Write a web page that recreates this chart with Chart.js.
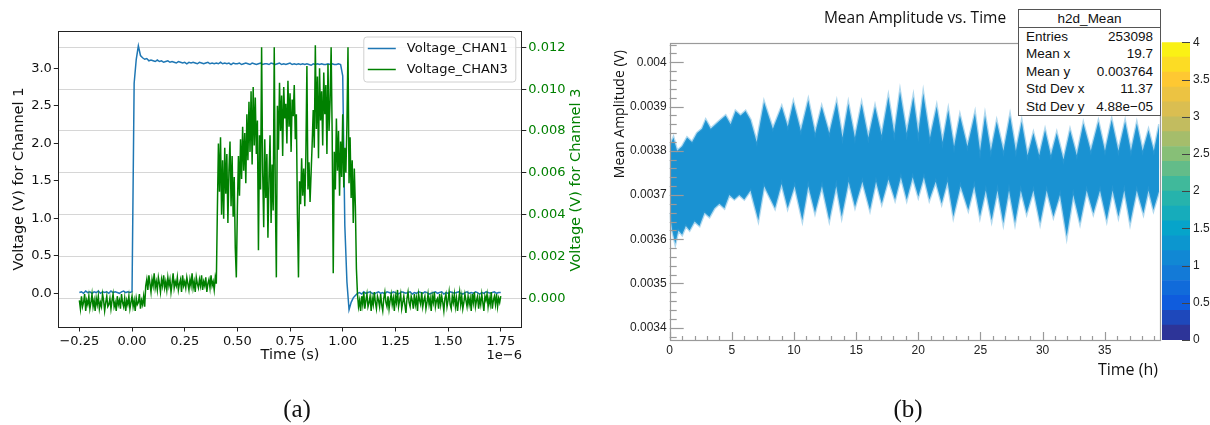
<!DOCTYPE html>
<html>
<head>
<meta charset="utf-8">
<script src="https://cdn.jsdelivr.net/npm/chart.js@4.4.1/dist/chart.umd.min.js"></script>
<style>
  html, body { margin:0; padding:0; background:#fff; }
  #page { position:relative; width:1210px; height:425px; overflow:hidden; }
  canvas { position:absolute; top:0; }
  .lbl { position:absolute; white-space:nowrap; line-height:1; color:#111; }
  .rot { transform:translate(-50%,-50%) rotate(-90deg); }
  .cap { position:absolute; top:408px; transform:translate(-50%,-50%); font:25px 'Liberation Serif', serif; color:#111; line-height:1; }
  #stats { position:absolute; left:1018px; top:9px; width:143px; height:107px; box-sizing:border-box;
           border:1px solid #555; background:#fff; font:13.5px 'Liberation Sans', Arial, sans-serif; color:#111; }
  #stats .hd { height:17px; line-height:17px; text-align:center; border-bottom:1px solid #555; }
  #stats .row { display:flex; justify-content:space-between; height:17.4px; line-height:17.4px; padding:0 7px 0 7px; }
</style>
</head>
<body>
<div id="page">
  <canvas id="scope" width="600" height="425" style="left:0"></canvas>
  <canvas id="amp" width="610" height="425" style="left:600px"></canvas>
  <canvas id="zbar" width="50" height="425" style="left:1160px"></canvas>

  <!-- panel (a) extras -->
  <div class="lbl rot" style="left:575px; top:180px; font:14.5px 'DejaVu Sans', sans-serif; color:#008000;">Voltage (V) for Channel 3</div>
  <div class="lbl" style="right:688px; top:346.5px; font:13px 'DejaVu Sans', sans-serif;">1e−6</div>

  <!-- panel (b) titles, ROOT style -->
  <div class="lbl" style="left:915px; top:6px; transform:translateX(-50%); font:15.5px 'Open Sans', sans-serif;">Mean Amplitude vs. Time</div>
  <div class="lbl" style="left:618px; top:50px; transform-origin:0 0; transform:rotate(-90deg) translate(-100%,-50%); font:14px 'Open Sans', sans-serif;">Mean Amplitude (V)</div>
  <div class="lbl" style="right:52px; top:358px; font:16px 'Open Sans', sans-serif;">Time (h)</div>

  <div id="stats">
    <div class="hd">h2d_Mean</div>
    <div class="row"><span>Entries</span><span>253098</span></div>
    <div class="row"><span>Mean x</span><span>19.7</span></div>
    <div class="row"><span>Mean y</span><span>0.003764</span></div>
    <div class="row"><span>Std Dev x</span><span>11.37</span></div>
    <div class="row"><span>Std Dev y</span><span>4.88e−05</span></div>
  </div>

  <div class="cap" style="left:297px">(a)</div>
  <div class="cap" style="left:908px">(b)</div>
</div>

<script>
// ---------- (a) scope traces ----------
// both channels start at -0.25 (x1e-6 s); CHAN1 sampled every 0.01, CHAN3 every 0.005
const T0 = -0.25;
const DT1 = 0.01;
const DT3 = 0.005;

// CHAN1, volts
const chan1 = [
  0.01,0.02,0.00,0.03,0.01,0.02,0.00,0.02,0.01,0.03,0.00,0.02,0.01,0.02,0.00,0.03,0.01,0.02,0.01,0.00,0.02,0.03,0.01,0.02,0.01,
  0.02,
  2.80,3.12,3.30,3.17,3.14,3.12,3.13,3.10,3.11,
  3.10,3.09,3.11,3.09,3.10,3.08,3.09,3.10,3.08,3.09,
  3.08,3.07,3.09,3.08,3.07,3.08,3.06,3.08,3.07,3.08,
  3.07,3.06,3.08,3.07,3.06,3.07,3.08,3.06,3.07,3.06,
  3.07,3.06,3.08,3.06,3.07,3.06,3.07,3.05,3.07,3.06,
  3.06,3.07,3.05,3.06,3.07,3.06,3.05,3.07,3.06,3.05,
  3.06,3.07,3.05,3.06,3.06,3.05,3.07,3.06,3.05,3.06,
  3.07,3.05,3.06,3.05,3.06,3.07,3.05,3.06,3.05,3.06,
  3.05,3.06,3.05,3.06,3.05,3.04,3.06,3.05,3.06,3.05,
  3.06,3.05,3.05,3.06,3.05,3.06,3.05,3.05,3.06,3.05,
  2.90,0.90,0.15,-0.22,-0.12,-0.06,-0.03,
  0.00,0.01,-0.01,0.02,0.00,0.01,0.02,0.00,-0.01,0.01,
  0.02,0.00,0.01,-0.01,0.02,0.01,0.00,0.02,0.01,-0.01,
  0.00,0.02,0.01,0.00,0.01,0.02,-0.01,0.01,0.00,0.02,
  0.01,0.00,0.02,0.01,-0.01,0.00,0.01,0.02,0.00,0.01,
  0.02,-0.01,0.01,0.00,0.02,0.01,0.00,0.01,0.02,0.00,
  -0.01,0.01,0.02,0.00,0.01,0.00,0.02,0.01,-0.01,0.01,
  0.00,0.02,0.01,0.00,0.01,0.02,0.00,0.01,0.01
];

// CHAN3, millivolts (axis shows volts)
const chan3 = [
  // baseline before the trigger
  -0.1,-0.5,0.1,-0.4,-0.2,0.2,-0.6,-0.1,-0.3,0.1,
  -0.5,-0.2,0.2,-0.4,-0.1,-0.6,0.0,-0.3,0.1,-0.5,
  -0.2,-0.4,0.2,-0.1,-0.6,-0.2,0.1,-0.4,-0.3,0.0,
  -0.5,-0.1,0.2,-0.4,-0.2,-0.6,0.1,-0.3,-0.1,-0.5,
  0.2,-0.2,-0.4,0.0,-0.6,-0.1,-0.3,0.1,-0.5,-0.2,
  0.1,-0.4,-0.1,-0.6,0.0,-0.3,-0.2,0.2,-0.5,-0.1,
  -0.3,0.1,-0.4,
  // small step after 0.06
  0.6,0.9,0.4,1.1,0.7,0.3,0.9,0.6,1.2,0.5,
  0.8,0.4,1.0,0.7,0.3,0.9,0.6,1.1,0.5,0.8,
  0.4,1.0,0.6,0.9,0.3,0.7,1.2,0.5,0.8,0.6,
  1.0,0.4,0.7,0.9,0.3,1.1,0.6,0.8,0.5,1.0,
  0.7,0.4,0.9,0.6,1.2,0.5,0.8,0.3,1.0,0.7,
  0.5,0.9,0.6,1.1,0.4,0.8,0.6,1.0,0.3,0.7,
  0.9,0.5,1.1,0.6,0.8,0.4,1.0,0.7,
  // burst 0.40 .. 1.06
  4.2,7.4,5.1,7.7,4.0,6.6,3.8,7.2,5.0,6.9,3.6,6.1,7.5,4.4,6.8,3.9,5.8,
  2.4,1.0,4.3,
  6.8,4.9,7.6,5.7,8.2,6.1,7.9,5.5,8.8,6.6,9.4,7.0,9.9,6.4,10.1,7.3,9.6,6.9,
  8.5,2.3,7.8,5.2,
  12.0,
  6.1,3.4,7.6,4.8,6.9,2.9,5.7,7.8,3.6,6.4,4.2,12.0,
  5.0,1.0,
  9.2,7.1,10.3,8.0,9.7,6.8,10.1,8.6,9.3,7.4,10.4,8.2,9.8,7.0,9.5,8.7,10.2,7.6,
  8.8,4.0,1.0,
  5.6,4.5,6.7,4.9,6.2,4.4,6.8,11.1,5.2,6.5,4.6,6.0,7.4,
  9.0,7.2,12.1,8.1,10.6,6.7,11.0,8.5,9.9,7.3,10.8,8.8,10.2,6.9,11.2,8.0,9.4,12.0,7.8,
  1.2,
  7.0,5.2,8.6,6.1,8.0,4.9,7.5,5.8,8.8,5.3,7.2,6.0,8.3,12.0,5.5,7.7,4.8,6.6,3.6,6.2,4.4,
  1.4,
  // baseline after the pulse
  0.2,-0.4,-0.1,-0.6,0.1,-0.3,0.3,-0.5,-0.1,0.2,
  -0.4,-0.2,0.1,-0.6,0.0,-0.3,0.3,-0.2,-0.5,0.1,
  -0.1,-0.4,0.2,-0.3,-0.6,0.0,0.3,-0.2,-0.4,0.1,
  -0.5,-0.1,0.2,-0.3,0.0,-0.6,0.1,-0.2,0.4,-0.4,
  -0.1,0.2,-0.5,-0.2,0.1,-0.3,-0.7,0.0,0.3,-0.2,
  -0.4,0.1,-0.1,-0.5,0.2,-0.3,0.0,-0.6,0.2,-0.1,
  -0.3,0.3,-0.4,-0.1,0.1,-0.5,-0.2,0.2,-0.3,0.0,
  -0.6,0.1,-0.2,0.3,-0.4,-0.1,0.0,-0.5,0.2,-0.3,
  0.1,-0.2,-0.6,0.0,0.2,-0.4,-0.1,0.3,-0.3,-0.5,
  0.1,-0.2,0.2,-0.4,0.0,-0.6,-0.1,0.3,-0.3,0.1,
  -0.5,-0.2,0.2,-0.1,-0.4,0.1,-0.3,0.0,-0.6,0.2,
  -0.2,0.3,-0.4,-0.1,0.1,-0.5,0.0,-0.3,0.2,-0.2,
  -0.6,0.1,-0.1,0.2,-0.4,0.0,-0.3,0.3,-0.5,-0.1,
  0.1,-0.3,0.2,-0.4,0.0,-0.2,0.1
];

// ---------- (b) mean amplitude band ----------
// upper edge of the point cloud (hours, volts)
const upperT = [0.0,0.3,0.6,1.0,1.4,1.8,2.2,2.6,2.9,3.3,3.7,4.1,4.5,4.9,5.3,5.7,6.1,6.5,7.0,7.59,8.3,9.01,9.5,9.95,10.55,11.15,11.7,12.23,12.84,13.43,
  13.9,14.37,14.9,15.44,15.98,16.52,17.05,17.59,18.06,18.53,19.07,19.6,20.0,20.4,20.94,21.48,21.95,22.41,22.88,23.35,23.95,24.56,24.97,25.37,25.84,26.31,26.85,27.38,27.85,28.32,
  28.79,29.26,29.73,30.2,30.67,31.14,31.68,32.21,32.75,33.28,33.88,34.49,35.02,35.56,36.1,36.64,37.11,37.58,38.05,38.52,38.95,39.39];
const upperV = [0.00381,0.00383,0.00380,0.00381,0.00383,0.00382,0.00384,0.00385,0.00387,0.00385,0.00386,0.00387,0.00388,0.00386,0.00389,0.00388,0.00389,0.00387,0.00382,0.00391,0.00385,0.00390,0.003855,0.00391,0.003845,0.003915,0.00384,0.00390,0.00384,0.00391,
  0.00383,0.003907,0.00383,0.003907,0.00383,0.00390,0.003835,0.003922,0.00384,0.003934,0.00384,0.003922,0.00384,0.00393,0.00383,0.00390,0.00382,0.003892,0.00381,0.00388,0.00381,0.003885,0.00380,0.00388,0.00380,0.003866,0.00380,0.00388,0.00380,0.003866,
  0.00379,0.00384,0.00379,0.003847,0.00379,0.00384,0.00378,0.003847,0.00379,0.003862,0.00380,0.003866,0.00380,0.00387,0.00380,0.003866,0.00380,0.003862,0.00380,0.003847,0.00380,0.00386];

// lower edge of the point cloud (hours, volts)
const lowerT = [0.0,0.2,0.45,0.7,1.0,1.3,1.6,2.0,2.4,2.8,3.2,3.6,4.0,4.4,4.8,5.2,5.6,6.0,6.5,7.13,7.6,8.47,9.0,9.49,10.05,10.67,11.15,11.69,12.25,12.84,
  13.4,13.84,14.4,14.91,15.5,16.11,16.6,17.06,17.6,18.13,18.6,19.07,19.55,20.0,20.45,20.89,21.4,21.88,22.35,22.82,23.4,24.02,24.5,24.96,25.43,25.9,26.37,26.84,27.3,27.78,
  28.25,28.72,29.26,29.8,30.33,30.87,31.4,31.94,32.47,33.01,33.55,34.08,34.62,35.16,35.63,36.1,36.57,37.04,37.58,38.11,38.52,38.92,39.39];
const lowerV = [0.00366,0.00362,0.00359,0.00362,0.00361,0.00363,0.00362,0.00364,0.00363,0.00366,0.00365,0.00367,0.00368,0.00367,0.00370,0.00369,0.00370,0.00369,0.00371,0.003643,0.00372,0.00367,0.003725,0.00367,0.00372,0.003643,0.00372,0.00366,0.00372,0.003643,
  0.00372,0.003651,0.00373,0.003673,0.00373,0.003666,0.00373,0.003681,0.003735,0.003689,0.00374,0.003689,0.00374,0.003696,0.00374,0.003689,0.00373,0.003681,0.00373,0.003651,0.00372,0.003666,0.00372,0.003651,0.00371,0.003643,0.00371,0.003636,0.00371,0.003636,
  0.00371,0.003658,0.00371,0.003636,0.00371,0.003651,0.00370,0.003606,0.00370,0.003636,0.00371,0.003658,0.00371,0.003643,0.00371,0.003651,0.00371,0.003636,0.00371,0.003658,0.00371,0.003666,0.00371];

// colour scale: level edges and the palette band between each pair
const zEdges = [0,0.2,0.4,0.6,0.8,1.0,1.2,1.4,1.6,1.8,2.0,2.2,2.4,2.6,2.8,3.0,3.2,3.4,3.6,3.8,4.0];
const zColors = ['#2d3498','#1e48bb','#0f5cdd','#116bda','#137ad7','#1188d4','#0c96cf','#06a4ca','#16acbb','#26b3ac',
                 '#40b99b','#63bc89','#87bf77','#a5bd6b','#c2bc5f','#dabe51','#ecc342','#fec832','#fcdc24','#faf115'];

Chart.defaults.font.family = "'DejaVu Sans', sans-serif";
Chart.defaults.color = '#111';

const fmtX = v => (Math.abs(v) < 1e-9 ? 0 : v).toFixed(2).replace('-', '\u2212');

// axes box + legend inside the upper right corner
const scopeFrame = {
  id: 'scopeFrame',
  afterDraw(chart) {
    const { ctx, chartArea: a } = chart;
    ctx.save();
    ctx.strokeStyle = '#222';
    ctx.lineWidth = 1;
    ctx.strokeRect(Math.round(a.left) + 0.5, Math.round(a.top) + 0.5, Math.round(a.right - a.left), Math.round(a.bottom - a.top));

    const bw = 152, bh = 45, bx = a.right - 6 - bw, by = a.top + 6;
    ctx.beginPath();
    if (ctx.roundRect) ctx.roundRect(bx, by, bw, bh, 3); else ctx.rect(bx, by, bw, bh);
    ctx.fillStyle = 'rgba(255,255,255,0.85)';
    ctx.fill();
    ctx.strokeStyle = '#d0d0d0';
    ctx.stroke();

    ctx.font = "13px 'DejaVu Sans', sans-serif";
    ctx.textBaseline = 'middle';
    chart.data.datasets.forEach((ds, i) => {
      const ly = by + 11.5 + i * 21;
      ctx.strokeStyle = ds.borderColor;
      ctx.lineWidth = 1.5;
      ctx.beginPath(); ctx.moveTo(bx + 4, ly); ctx.lineTo(bx + 32, ly); ctx.stroke();
      ctx.fillStyle = '#111';
      ctx.fillText(ds.label, bx + 43, ly);
    });
    ctx.restore();
  }
};

new Chart(document.getElementById('scope'), {
  type: 'line',
  data: {
    datasets: [
      { label: 'Voltage_CHAN1', data: chan1.map((v, i) => ({ x: T0 + i * DT1, y: v })), yAxisID: 'y',
        borderColor: '#1f77b4', borderWidth: 1.5, pointRadius: 0, order: 1 },
      { label: 'Voltage_CHAN3', data: chan3.map((v, i) => ({ x: T0 + i * DT3, y: v })), yAxisID: 'y3',
        borderColor: '#008000', borderWidth: 1.5, pointRadius: 0, order: 0 }
    ]
  },
  options: {
    responsive: false, animation: false,
    layout: { padding: { left: 0, top: 31, right: 8.2, bottom: 58 } },
    plugins: { legend: { display: false }, tooltip: { enabled: false } },
    scales: {
      x: {
        type: 'linear', min: -0.35, max: 1.85,
        afterFit: s => { s.height = 40; },
        grid: { drawOnChartArea: false, tickLength: 4.5, tickColor: '#222' },
        border: { display: false },
        ticks: { stepSize: 0.25, includeBounds: false, autoSkip: false, maxRotation: 0, padding: 2, font: { size: 13 }, callback: fmtX },
        title: { display: true, text: 'Time (s)', font: { size: 14.5 }, padding: { top: 0, bottom: 3.3 } }
      },
      y: {
        position: 'left', min: -0.449, max: 3.497,
        afterFit: s => { s.width = 58.3; },
        grid: { drawOnChartArea: false, tickLength: 4.5, tickColor: '#222' },
        border: { display: false },
        ticks: { stepSize: 0.5, includeBounds: false, padding: 2, font: { size: 13 }, callback: v => v.toFixed(1) },
        title: { display: true, text: 'Voltage (V) for Channel 1', font: { size: 14.5 }, padding: { top: 10.3, bottom: 0 } }
      },
      y3: {
        position: 'right', min: -1.372, max: 12.779,
        afterFit: s => { s.width = 70; },
        grid: { color: '#d6d6d6', lineWidth: 1, tickLength: 4.5, tickColor: '#222' },
        border: { display: false },
        ticks: { stepSize: 2, includeBounds: false, padding: 2, color: '#008000', font: { size: 13 }, callback: v => (v / 1000).toFixed(3) }
      }
    }
  },
  plugins: [scopeFrame]
});

// ROOT-like frame with inward tick marks
const rootFrame = {
  id: 'rootFrame',
  afterDatasetsDraw(chart) {
    const { ctx, chartArea: a, scales: { x, y } } = chart;
    ctx.save();
    ctx.strokeStyle = '#9a9a9a';
    ctx.lineWidth = 1.2;
    ctx.strokeRect(Math.round(a.left) + 0.5, Math.round(a.top) + 0.5, Math.round(a.right - a.left), Math.round(a.bottom - a.top));
    // y: major every 1e-4 V, four minors between
    for (let k = Math.ceil(y.min / 2e-5); k * 2e-5 <= y.max; k++) {
      const py = Math.round(y.getPixelForValue(k * 2e-5)) + 0.5;
      const len = k % 5 === 0 ? 14 : 7;
      ctx.beginPath(); ctx.moveTo(a.left, py); ctx.lineTo(a.left + len, py); ctx.stroke();
    }
    // x: minor every hour, major every 5 h
    for (let h = 0; h <= x.max; h++) {
      const px = Math.round(x.getPixelForValue(h)) + 0.5;
      const len = h % 5 === 0 ? 8 : 4;
      ctx.beginPath(); ctx.moveTo(px, a.bottom); ctx.lineTo(px, a.bottom - len); ctx.stroke();
    }
    ctx.restore();
  }
};

const cloud = '#1a92d2';
const cloudEdge = 'rgba(60,160,216,0.4)';

new Chart(document.getElementById('amp'), {
  type: 'line',
  data: {
    datasets: [
      { data: upperT.map((t, i) => ({ x: t, y: upperV[i] })), borderColor: cloudEdge, borderWidth: 2.5,
        backgroundColor: cloud, fill: { value: 0.00376 }, pointRadius: 0 },
      { data: lowerT.map((t, i) => ({ x: t, y: lowerV[i] })), borderColor: cloudEdge, borderWidth: 2.5,
        backgroundColor: cloud, fill: { value: 0.00378 }, pointRadius: 0 }
    ]
  },
  options: {
    responsive: false, animation: false,
    layout: { padding: { left: 0, top: 42.7, right: 50.7, bottom: 55 } },
    plugins: { legend: { display: false }, tooltip: { enabled: false } },
    scales: {
      x: {
        type: 'linear', min: 0, max: 39.39,
        afterFit: s => { s.height = 30; },
        grid: { display: false, drawTicks: false },
        border: { display: false },
        ticks: { stepSize: 5, includeBounds: false, maxRotation: 0, padding: 3, color: '#222',
                 font: { family: "'Liberation Sans', Arial, sans-serif", size: 12 } }
      },
      y: {
        min: 0.0033722, max: 0.0040443,
        afterFit: s => { s.width = 69.7; },
        grid: { display: false, drawTicks: false },
        border: { display: false },
        ticks: { stepSize: 0.0001, includeBounds: false, padding: 3, color: '#222',
                 font: { family: "'Liberation Sans', Arial, sans-serif", size: 12 },
                 callback: v => String(+v.toFixed(4)) }
      }
    }
  },
  plugins: [rootFrame]
});

// colour bar ticks point inward from the right edge
const zTicks = {
  id: 'zTicks',
  afterDraw(chart) {
    const { ctx, chartArea: a, scales: { y } } = chart;
    ctx.save();
    ctx.strokeStyle = '#444';
    ctx.lineWidth = 1;
    y.ticks.forEach(t => {
      const py = Math.round(y.getPixelForValue(t.value)) + 0.5;
      ctx.beginPath(); ctx.moveTo(a.right - 8, py); ctx.lineTo(a.right, py); ctx.stroke();
    });
    ctx.restore();
  }
};

new Chart(document.getElementById('zbar'), {
  type: 'bar',
  data: {
    labels: [''],
    datasets: zColors.map((c, k) => ({
      data: [[zEdges[k], zEdges[k + 1]]], backgroundColor: c, borderWidth: 0,
      barPercentage: 1, categoryPercentage: 1, grouped: false
    }))
  },
  options: {
    responsive: false, animation: false,
    layout: { padding: { left: 2, top: 42.3, right: 0, bottom: 85 } },
    plugins: { legend: { display: false }, tooltip: { enabled: false } },
    scales: {
      x: { display: false },
      y: {
        position: 'right', min: 0, max: 4,
        afterFit: s => { s.width = 20; },
        grid: { display: false, drawTicks: false },
        border: { display: false },
        ticks: { stepSize: 0.5, padding: 3, color: '#222', font: { family: "'Liberation Sans', Arial, sans-serif", size: 12 },
                 callback: v => String(+v.toFixed(1)) }
      }
    }
  },
  plugins: [zTicks]
});
</script>
</body>
</html>
